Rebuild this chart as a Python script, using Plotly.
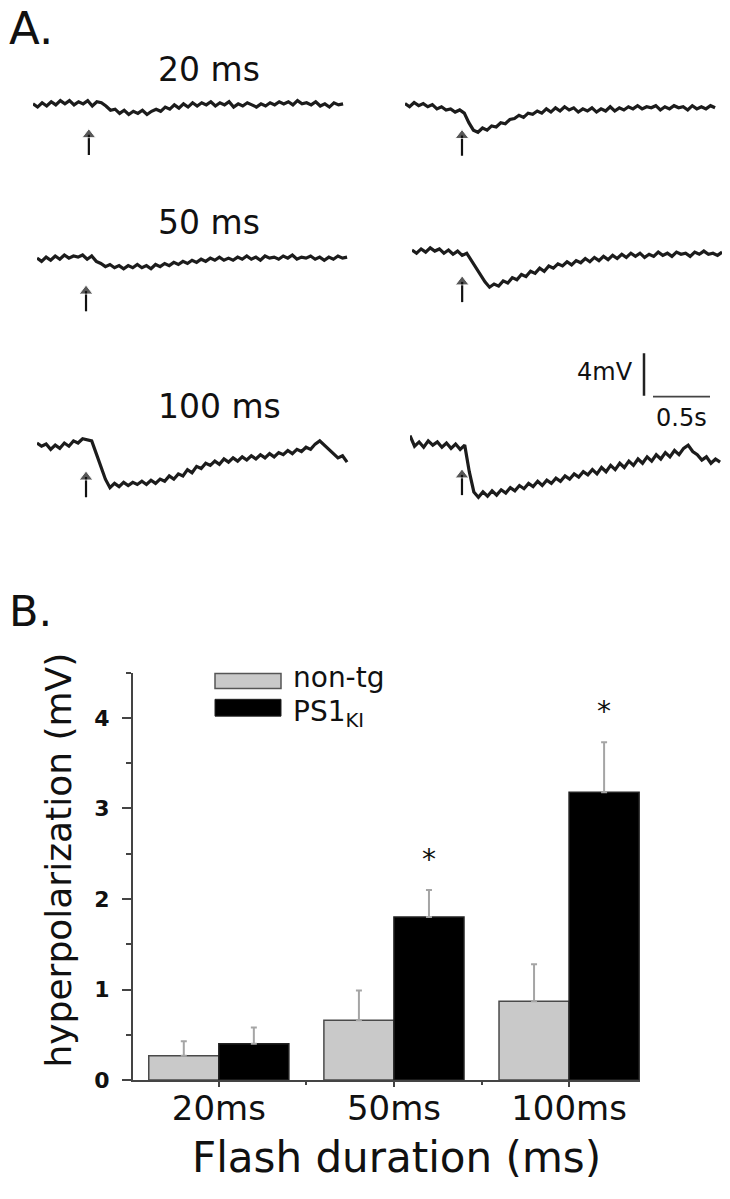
import plotly.graph_objects as go

# ---------------- DATA ----------------
# Panel A: membrane potential traces (mV relative to baseline), sampled every DT seconds
DT = 0.04  # s

trace_20_nontg = [0.1, -0.2, 0.2, -0.1, 0.3, 0.0, 0.4, 0.1, 0.4, 0.0, 0.3, 0.1, 0.4, -0.1, 0.3, 0.2, -0.1,
                  -0.5, -0.4, -0.8, -0.5, -0.9, -0.6, -0.8, -0.5, -0.9, -0.6, -0.4, -0.6, -0.2, -0.4, 0.0,
                  -0.3, 0.1, -0.2, 0.2, -0.1, 0.2, 0.0, 0.3, -0.1, 0.2, 0.0, 0.3, -0.2, 0.1, -0.1, 0.2, 0.0,
                  -0.2, 0.1, -0.1, 0.2, 0.0, 0.3, 0.1, 0.3, 0.0, 0.4, 0.1, 0.2, 0.0, 0.3, -0.1, 0.1, -0.2,
                  0.2, 0.0, 0.1]
trace_20_ps1 = [0.5, 0.2, 0.6, 0.3, 0.5, 0.2, 0.4, 0.0, 0.2, -0.1, 0.0, -0.3, -0.1, -0.4, -1.3, -2.0, -2.2,
                -1.8, -2.0, -1.6, -1.7, -1.3, -1.4, -1.0, -0.9, -0.6, -0.8, -0.4, -0.5, -0.2, -0.4, 0.0,
                -0.3, 0.1, -0.2, 0.2, -0.1, 0.1, -0.3, 0.0, -0.2, 0.1, -0.3, 0.0, -0.2, 0.2, -0.2, 0.1,
                -0.1, 0.2, 0.0, 0.3, 0.0, 0.2, 0.1, 0.3, -0.1, 0.2, 0.0, 0.3, 0.1, 0.2, -0.1, 0.3, 0.0,
                0.2, 0.0, 0.3, 0.1]
trace_50_nontg = [0.1, -0.2, 0.2, -0.1, 0.3, 0.0, 0.4, 0.1, 0.3, 0.2, 0.4, 0.0, 0.3, -0.2, -0.4, -0.7, -0.5,
                  -0.8, -0.6, -0.9, -0.6, -0.8, -0.5, -0.8, -0.6, -0.9, -0.5, -0.7, -0.4, -0.6, -0.3, -0.5,
                  -0.2, -0.4, -0.1, -0.3, 0.0, -0.2, 0.1, -0.1, 0.2, -0.1, 0.1, -0.1, 0.2, 0.0, 0.3, 0.0,
                  0.2, -0.1, 0.3, 0.1, 0.2, 0.0, 0.3, 0.1, 0.4, 0.0, 0.2, 0.1, 0.3, 0.0, 0.2, -0.1, 0.2,
                  0.0, 0.3, 0.1, 0.2]
trace_50_ps1 = [0.4, 0.1, 0.5, 0.2, 0.6, 0.3, 0.5, 0.1, 0.4, 0.0, 0.3, -0.1, 0.1, -0.6, -1.3, -2.0, -2.6,
                -3.1, -2.8, -3.0, -2.5, -2.7, -2.2, -2.4, -1.9, -2.1, -1.6, -1.8, -1.3, -1.6, -1.1, -1.3,
                -0.9, -1.1, -0.7, -1.0, -0.6, -0.8, -0.4, -0.7, -0.3, -0.6, -0.2, -0.5, -0.1, -0.4, 0.0,
                -0.3, 0.1, -0.2, 0.1, -0.3, 0.0, -0.2, 0.2, -0.1, 0.1, -0.2, 0.2, 0.0, 0.1, -0.2, 0.2,
                0.0, 0.3, 0.0, 0.1, -0.1, 0.2]
trace_100_nontg = [0.2, -0.1, 0.1, -0.4, 0.0, -0.3, 0.2, -0.1, 0.4, 0.2, 0.6, 0.5, 0.4, -0.8, -2.0, -3.2,
                   -4.0, -3.6, -3.9, -3.5, -3.8, -3.5, -3.7, -3.4, -3.7, -3.3, -3.6, -3.2, -3.4, -2.9, -3.2,
                   -2.7, -2.9, -2.3, -2.6, -2.0, -2.2, -1.7, -1.9, -1.5, -1.8, -1.3, -1.6, -1.2, -1.5, -1.1,
                   -1.4, -1.0, -1.3, -0.9, -1.2, -0.8, -1.1, -0.7, -0.9, -0.5, -0.8, -0.4, -0.6, -0.2, -0.4,
                   0.1, 0.4, 0.0, -0.5, -0.8, -1.2, -1.0, -1.6]
trace_100_ps1 = [0.9, -0.1, 0.3, -0.2, 0.4, 0.0, 0.3, -0.2, 0.2, -0.3, 0.1, -0.4, 0.0, -2.5, -4.4, -4.9,
                 -4.4, -4.8, -4.3, -4.7, -4.2, -4.5, -4.0, -4.3, -3.8, -4.1, -3.6, -3.9, -3.4, -3.8, -3.3,
                 -3.6, -3.1, -3.4, -2.9, -3.2, -2.7, -3.0, -2.5, -2.8, -2.3, -2.7, -2.1, -2.5, -1.9, -2.3,
                 -1.7, -2.1, -1.5, -1.9, -1.3, -1.7, -1.1, -1.5, -0.9, -1.3, -0.7, -1.1, -0.5, -0.9, -0.3,
                 0.0, -0.6, -0.9, -1.4, -1.1, -1.7, -1.3, -1.6]

# flash onset (s from trace start)
flash_20_nontg, flash_20_ps1 = 0.49, 0.50
flash_50_nontg, flash_50_ps1 = 0.43, 0.44
flash_100_nontg, flash_100_ps1 = 0.43, 0.456

row_labels = ["20 ms", "50 ms", "100 ms"]
scale_mv = 4      # mV
scale_s = 0.5     # s
scale_mv_label = "4mV"
scale_s_label = "0.5s"

# Panel B: hyperpolarization (mV)
conditions = ["20ms", "50ms", "100ms"]
nontg_mean = [0.27, 0.66, 0.87]
nontg_sem = [0.16, 0.33, 0.41]
ps1_mean = [0.40, 1.80, 3.18]
ps1_sem = [0.18, 0.30, 0.55]
significant = [False, True, True]
series_names = ["non-tg", "PS1<sub>KI</sub>"]

# ---------------- LAYOUT HELPERS ----------------
OFF = 8                      # default page body margin
W, H = 730 - 2 * OFF, 1199 - 2 * OFF
PX_PER_S = 114.0
PX_PER_MV = 10.75
FONT = "DejaVu Sans"


def fx(px):
    return min(max((px - OFF) / W, 0.0), 1.0)


def fy(py):
    return min(max(1 - (py - OFF) / H, 0.0), 1.0)


fig = go.Figure()

# trace panels: (values, flash time, x start px, baseline px, arrow tip mV)
panels = [
    (trace_20_nontg, flash_20_nontg, 33, 106, -2.2),
    (trace_20_ps1, flash_20_ps1, 405, 110, -1.9),
    (trace_50_nontg, flash_50_nontg, 37, 262, -2.4),
    (trace_50_ps1, flash_50_ps1, 412, 257, -2.0),
    (trace_100_nontg, flash_100_nontg, 37, 450, -2.4),
    (trace_100_ps1, flash_100_ps1, 410, 450, -2.2),
]

T_SPAN = 2.74
Y_LO, Y_HI = -6.0, 2.0
ARROW_LEN = 2.5  # mV
annotations = []
layout_axes = {}
for k, (vals, t_flash, sx, yb, arrow_tip) in enumerate(panels):
    n = k + 2
    t = [i * DT for i in range(len(vals))]
    fig.add_trace(go.Scatter(x=t, y=vals, mode="lines",
                             line=dict(color="#1c1c1c", width=3.2),
                             xaxis=f"x{n}", yaxis=f"y{n}", showlegend=False,
                             hoverinfo="skip", cliponaxis=False))
    # stimulus arrow
    fig.add_trace(go.Scatter(x=[t_flash, t_flash], y=[arrow_tip - ARROW_LEN, arrow_tip - 0.6],
                             mode="lines+markers", line=dict(color="#111", width=2.2),
                             marker=dict(symbol=["circle", "triangle-up"], size=[0, 12], color="#111"),
                             xaxis=f"x{n}", yaxis=f"y{n}", showlegend=False, hoverinfo="skip"))
    x_end_px = min(sx + T_SPAN * PX_PER_S, OFF + W)
    layout_axes[f"xaxis{n}"] = dict(domain=[fx(sx), fx(x_end_px)],
                                    range=[0, (x_end_px - sx) / PX_PER_S], visible=False,
                                    anchor=f"y{n}")
    top_px = yb - Y_HI * PX_PER_MV
    bot_px = yb - Y_LO * PX_PER_MV
    layout_axes[f"yaxis{n}"] = dict(domain=[fy(bot_px), fy(top_px)],
                                    range=[Y_LO, Y_HI], visible=False, anchor=f"x{n}")

# scale bar axis
SB_X0, SB_X1, SB_Y0, SB_Y1 = 560, 720, 340, 440
sb_xr = (SB_X1 - SB_X0) / PX_PER_S
sb_yr = (SB_Y1 - SB_Y0) / PX_PER_MV
layout_axes["xaxis8"] = dict(domain=[fx(SB_X0), fx(SB_X1)], range=[0, sb_xr], visible=False, anchor="y8")
layout_axes["yaxis8"] = dict(domain=[fy(SB_Y1), fy(SB_Y0)], range=[0, sb_yr], visible=False, anchor="x8")
v_x = (644 - SB_X0) / PX_PER_S
v_y0 = (SB_Y1 - 400) / PX_PER_MV
h_x0 = (653 - SB_X0) / PX_PER_S
h_y = (SB_Y1 - 401) / PX_PER_MV
fig.add_trace(go.Scatter(x=[v_x, v_x], y=[v_y0, v_y0 + scale_mv], mode="lines",
                         line=dict(color="#222", width=2.5), xaxis="x8", yaxis="y8",
                         showlegend=False, hoverinfo="skip"))
fig.add_trace(go.Scatter(x=[h_x0, h_x0 + scale_s], y=[h_y, h_y], mode="lines",
                         line=dict(color="#444", width=1.8), xaxis="x8", yaxis="y8",
                         showlegend=False, hoverinfo="skip"))
annotations.append(dict(x=v_x - 0.08, y=v_y0 + scale_mv / 2 + 0.2, xref="x8", yref="y8",
                        text=scale_mv_label, showarrow=False, xanchor="right", yanchor="middle",
                        font=dict(family=FONT, size=24, color="#111")))
annotations.append(dict(x=h_x0 + scale_s / 2, y=h_y - 2.0, xref="x8", yref="y8",
                        text=scale_s_label, showarrow=False, xanchor="center", yanchor="middle",
                        font=dict(family=FONT, size=24, color="#111")))

# row labels and panel letters
for lab, (px, py) in zip(row_labels, [(209, 70), (209, 225), (219, 411)]):
    annotations.append(dict(x=fx(px), y=fy(py), xref="paper", yref="paper", text=lab,
                            showarrow=False, xanchor="center", yanchor="middle",
                            font=dict(family=FONT, size=33, color="#111")))
annotations.append(dict(x=fx(31), y=fy(29), xref="paper", yref="paper", text="A.",
                        showarrow=False, xanchor="center", yanchor="middle",
                        font=dict(family=FONT, size=45, color="#111")))
annotations.append(dict(x=fx(31), y=fy(618), xref="paper", yref="paper", text="B.",
                        showarrow=False, xanchor="center", yanchor="middle",
                        font=dict(family=FONT, size=43, color="#111")))

# ---------------- PANEL B ----------------
xpos = list(range(len(conditions)))
fig.add_trace(go.Bar(x=xpos, y=nontg_mean, name="non-tg", marker=dict(color="#c9c9c9",
                     line=dict(color="#4a4a4a", width=1.5)),
                     error_y=dict(type="data", array=nontg_sem, arrayminus=[0] * 3, symmetric=False,
                                  color="#a5a5a5", thickness=2, width=3),
                     xaxis="x", yaxis="y", showlegend=False))
fig.add_trace(go.Bar(x=xpos, y=ps1_mean, name="PS1KI", marker=dict(color="#000000",
                     line=dict(color="#222", width=1.5)),
                     error_y=dict(type="data", array=ps1_sem, arrayminus=[0] * 3, symmetric=False,
                                  color="#a5a5a5", thickness=2, width=3),
                     xaxis="x", yaxis="y", showlegend=False))

for i, sig in enumerate(significant):
    if sig:
        annotations.append(dict(x=i + 0.2, y=ps1_mean[i] + ps1_sem[i], xref="x", yref="y",
                                text="*", showarrow=False, yanchor="bottom", yshift=12,
                                font=dict(family=FONT, size=28, color="#111")))

# legend (manual)
shapes = [
    dict(type="rect", xref="paper", yref="paper", x0=fx(215), x1=fx(281), y0=fy(696), y1=fy(681),
         fillcolor="#c9c9c9", line=dict(color="#555", width=1.5)),
    dict(type="rect", xref="paper", yref="paper", x0=fx(215), x1=fx(281), y0=fy(724), y1=fy(707),
         fillcolor="#000", line=dict(color="#222", width=1)),
]
annotations.append(dict(x=fx(291), y=fy(685), xref="paper", yref="paper", text=series_names[0],
                        showarrow=False, xanchor="left", yanchor="middle",
                        font=dict(family=FONT, size=28, color="#111")))
annotations.append(dict(x=fx(291), y=fy(721), xref="paper", yref="paper", text=series_names[1],
                        showarrow=False, xanchor="left", yanchor="middle",
                        font=dict(family=FONT, size=28, color="#111")))

# axis titles
annotations.append(dict(x=fx(59), y=fy(870), xref="paper", yref="paper",
                        text="hyperpolarization (mV)", textangle=-90, showarrow=False,
                        xanchor="center", yanchor="middle",
                        font=dict(family=FONT, size=36, color="#111")))
annotations.append(dict(x=fx(397), y=fy(1170), xref="paper", yref="paper",
                        text="Flash duration (ms)", showarrow=False,
                        xanchor="center", yanchor="middle",
                        font=dict(family=FONT, size=42, color="#111")))

fig.update_layout(
    width=W, height=H, margin=dict(l=0, r=0, t=0, b=0),
    paper_bgcolor="white", plot_bgcolor="white",
    barmode="group", bargap=0.2, bargroupgap=0,
    xaxis=dict(domain=[fx(133), fx(640)], range=[-0.49, 2.405], anchor="y",
               tickvals=xpos, ticktext=conditions, ticks="outside", ticklen=5, tickwidth=1.5,
               tickcolor="#444", showline=True, linecolor="#444", linewidth=2,
               showgrid=False, zeroline=False, ticklabelstandoff=-8,
               minor=dict(tickvals=[0.5, 1.5], ticks="outside", ticklen=3, tickcolor="#444"),
               tickfont=dict(family=FONT, size=34, color="#111")),
    yaxis=dict(domain=[fy(1092), fy(680)], range=[0, 4.5], anchor="x",
               tickvals=[0, 1, 2, 3, 4], ticks="outside", ticklen=9, tickwidth=1.5,
               tickcolor="#444", showline=True, linecolor="#444", linewidth=2,
               showgrid=False, zeroline=False, ticklabelstandoff=8,
               minor=dict(tickvals=[0.5, 1.5, 2.5, 3.5, 4.5], ticks="outside", ticklen=5,
                          tickcolor="#444"),
               tickfont=dict(family=FONT, size=22, color="#111", weight="bold")),
    annotations=annotations, shapes=shapes,
    **layout_axes,
)

fig.write_html("out.html")
